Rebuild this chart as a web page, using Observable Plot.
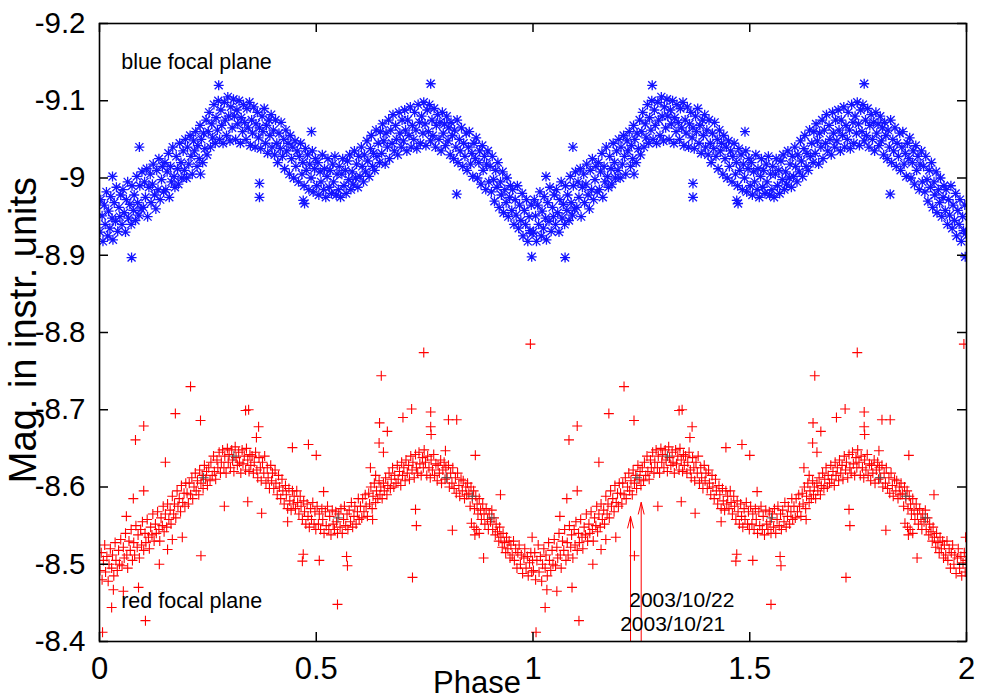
<!DOCTYPE html>
<html><head><meta charset="utf-8">
<script src="https://cdn.jsdelivr.net/npm/d3@7"></script>
<script src="https://cdn.jsdelivr.net/npm/@observablehq/plot@0.6"></script>
<style>
body{margin:0;background:#fff;}
#chart svg{font-family:"Liberation Sans",Arial,Helvetica,sans-serif;background:#fff;}
</style>
</head><body><div id="chart"></div>
<script>
// ---- Tick values ----
const xTicks = [0, 0.5, 1, 1.5, 2];
const yTicks = [-9.2, -9.1, -9, -8.9, -8.8, -8.7, -8.6, -8.5, -8.4];

// ---- Blue focal plane: [phase, magnitude] (phase 0..1, shown again at phase+1) ----
const bluePoints = [
[0.001,-8.930],[0.003,-8.972],[0.006,-8.951],[0.008,-8.918],[0.011,-8.965],[0.013,-8.940],[0.016,-8.982],[0.019,-8.925],[0.021,-8.957],[0.024,-8.935],
[0.026,-8.976],[0.029,-8.948],[0.031,-8.920],[0.034,-8.968],[0.037,-8.944],[0.039,-8.988],[0.042,-8.931],[0.045,-8.962],[0.047,-8.950],[0.049,-8.978],
[0.052,-8.940],[0.054,-8.985],[0.057,-8.955],[0.060,-8.930],[0.062,-8.972],[0.065,-8.995],[0.067,-8.948],[0.070,-8.966],[0.073,-8.940],[0.075,-8.990],
[0.078,-8.958],[0.080,-8.978],[0.083,-8.945],[0.086,-9.002],[0.088,-8.968],[0.091,-8.952],[0.093,-8.990],[0.096,-8.960],[0.098,-9.008],
[0.101,-8.962],[0.104,-8.995],[0.106,-8.975],[0.109,-9.012],[0.111,-8.950],[0.114,-8.988],[0.117,-9.005],[0.119,-8.968],[0.122,-8.992],[0.124,-9.018],
[0.127,-8.978],[0.130,-8.960],[0.132,-9.010],[0.135,-8.985],[0.137,-9.025],[0.140,-8.972],[0.143,-8.998],[0.145,-9.015],[0.148,-8.982],
[0.151,-9.020],[0.153,-8.985],[0.156,-9.008],[0.159,-9.032],[0.161,-8.975],[0.164,-9.015],[0.166,-8.995],[0.169,-9.040],[0.172,-9.002],[0.174,-8.988],
[0.177,-9.028],[0.180,-9.012],[0.182,-8.992],[0.185,-9.045],[0.188,-9.020],[0.190,-9.000],[0.193,-9.035],[0.196,-9.010],[0.198,-9.050],
[0.201,-9.000],[0.203,-9.040],[0.206,-9.018],[0.209,-9.055],[0.211,-9.028],[0.214,-9.005],[0.217,-9.048],[0.219,-9.035],[0.222,-9.060],[0.225,-9.015],
[0.227,-9.042],[0.230,-9.025],[0.232,-9.068],[0.235,-9.050],[0.238,-9.020],[0.240,-9.058],[0.243,-9.038],[0.246,-9.075],[0.248,-9.030],
[0.251,-9.060],[0.253,-9.085],[0.256,-9.040],[0.259,-9.070],[0.261,-9.052],[0.264,-9.095],[0.267,-9.045],[0.269,-9.078],[0.272,-9.062],[0.274,-9.100],
[0.277,-9.050],[0.280,-9.088],[0.282,-9.068],[0.285,-9.045],[0.288,-9.098],[0.290,-9.075],[0.293,-9.055],[0.296,-9.105],[0.298,-9.080],
[0.301,-9.048],[0.303,-9.092],[0.306,-9.065],[0.309,-9.102],[0.311,-9.080],[0.314,-9.050],[0.317,-9.088],[0.319,-9.070],[0.322,-9.100],[0.325,-9.045],
[0.327,-9.078],[0.330,-9.060],[0.332,-9.095],[0.335,-9.072],[0.338,-9.050],[0.340,-9.090],[0.343,-9.065],[0.346,-9.098],[0.348,-9.042],
[0.351,-9.075],[0.353,-9.058],[0.356,-9.092],[0.359,-9.040],[0.361,-9.070],[0.364,-9.085],[0.367,-9.052],[0.369,-9.065],[0.372,-9.038],[0.375,-9.080],
[0.377,-9.060],[0.380,-9.090],[0.383,-9.045],[0.385,-9.068],[0.388,-9.032],[0.391,-9.075],[0.393,-9.055],[0.396,-9.082],[0.398,-9.040],
[0.401,-9.062],[0.404,-9.030],[0.406,-9.075],[0.409,-9.045],[0.411,-9.020],[0.414,-9.058],[0.417,-9.038],[0.419,-9.072],[0.422,-9.028],[0.425,-9.050],
[0.427,-9.012],[0.430,-9.062],[0.432,-9.035],[0.435,-9.045],[0.438,-9.005],[0.440,-9.055],[0.443,-9.025],[0.446,-9.040],[0.448,-9.000],
[0.451,-9.048],[0.453,-9.015],[0.456,-9.035],[0.459,-8.995],[0.461,-9.028],[0.464,-9.045],[0.467,-9.005],[0.469,-9.020],[0.472,-8.990],[0.475,-9.038],
[0.477,-9.010],[0.480,-9.030],[0.483,-8.985],[0.485,-9.018],[0.488,-9.000],[0.491,-9.035],[0.493,-8.982],[0.496,-9.012],[0.498,-9.025],
[0.501,-8.990],[0.504,-9.020],[0.506,-8.978],[0.509,-9.008],[0.511,-8.995],[0.514,-9.030],[0.517,-8.985],[0.519,-9.012],[0.522,-8.975],[0.525,-9.002],
[0.527,-9.025],[0.530,-8.988],[0.532,-9.010],[0.535,-8.980],[0.538,-9.018],[0.540,-8.995],[0.543,-9.028],[0.546,-8.978],[0.548,-9.005],
[0.551,-8.985],[0.553,-9.015],[0.556,-8.975],[0.559,-9.005],[0.561,-9.025],[0.564,-8.990],[0.567,-9.010],[0.569,-8.980],[0.572,-9.022],[0.575,-8.998],
[0.577,-9.030],[0.580,-8.985],[0.583,-9.008],[0.585,-8.992],[0.588,-9.035],[0.591,-9.000],[0.593,-9.018],[0.596,-8.988],[0.598,-9.028],
[0.601,-9.002],[0.604,-9.040],[0.606,-9.015],[0.609,-8.995],[0.611,-9.030],[0.614,-9.008],[0.617,-9.048],[0.619,-9.022],[0.622,-9.002],[0.625,-9.038],
[0.627,-9.055],[0.630,-9.015],[0.632,-9.032],[0.635,-9.010],[0.638,-9.062],[0.640,-9.028],[0.643,-9.045],[0.646,-9.020],[0.648,-9.060],
[0.651,-9.032],[0.653,-9.070],[0.656,-9.048],[0.659,-9.018],[0.661,-9.058],[0.664,-9.040],[0.667,-9.075],[0.669,-9.025],[0.672,-9.062],[0.675,-9.045],
[0.677,-9.082],[0.680,-9.035],[0.683,-9.068],[0.685,-9.050],[0.688,-9.030],[0.691,-9.085],[0.693,-9.058],[0.696,-9.040],[0.698,-9.075],
[0.701,-9.048],[0.704,-9.088],[0.706,-9.062],[0.709,-9.035],[0.711,-9.075],[0.714,-9.055],[0.717,-9.092],[0.719,-9.040],[0.722,-9.068],[0.725,-9.050],
[0.727,-9.085],[0.730,-9.062],[0.732,-9.038],[0.735,-9.095],[0.738,-9.072],[0.740,-9.045],[0.743,-9.080],[0.746,-9.058],[0.748,-9.098],
[0.751,-9.070],[0.753,-9.042],[0.756,-9.088],[0.759,-9.060],[0.761,-9.095],[0.764,-9.048],[0.767,-9.075],[0.769,-9.055],[0.772,-9.090],[0.775,-9.040],
[0.777,-9.068],[0.780,-9.082],[0.783,-9.050],[0.785,-9.072],[0.788,-9.035],[0.791,-9.085],[0.793,-9.058],[0.796,-9.070],[0.798,-9.042],
[0.801,-9.080],[0.804,-9.048],[0.806,-9.065],[0.809,-9.030],[0.811,-9.072],[0.814,-9.055],[0.817,-9.025],[0.819,-9.062],[0.822,-9.040],[0.825,-9.075],
[0.827,-9.020],[0.830,-9.050],[0.832,-9.035],[0.835,-9.065],[0.838,-9.015],[0.840,-9.045],[0.843,-9.028],[0.846,-9.058],[0.848,-9.010],
[0.851,-9.040],[0.853,-9.060],[0.856,-9.018],[0.859,-9.032],[0.861,-9.002],[0.864,-9.045],[0.867,-9.025],[0.869,-9.052],[0.872,-9.000],[0.875,-9.020],
[0.877,-9.035],[0.880,-8.992],[0.883,-9.042],[0.885,-9.010],[0.888,-9.028],[0.891,-8.985],[0.893,-9.018],[0.896,-9.035],[0.898,-8.995],
[0.901,-9.015],[0.904,-8.982],[0.906,-9.028],[0.909,-8.998],[0.911,-8.970],[0.914,-9.010],[0.917,-8.988],[0.919,-9.020],[0.922,-8.962],[0.925,-8.995],
[0.927,-8.978],[0.930,-9.008],[0.932,-8.955],[0.935,-8.985],[0.938,-8.968],[0.940,-9.000],[0.943,-8.950],[0.946,-8.975],[0.948,-8.990],
[0.951,-8.958],[0.953,-8.985],[0.956,-8.940],[0.959,-8.972],[0.961,-8.952],[0.964,-8.990],[0.967,-8.935],[0.969,-8.965],[0.972,-8.945],[0.975,-8.980],
[0.977,-8.925],[0.980,-8.958],[0.983,-8.940],[0.985,-8.972],[0.988,-8.918],[0.991,-8.950],[0.993,-8.932],[0.996,-8.965],[0.998,-8.928]];
// Blue outliers
const blueOutliers = [
[0.074,-8.897],[0.275,-9.120],[0.092,-9.040],[0.233,-9.005],[0.369,-8.993],[0.369,-8.975],[0.473,-8.967],
[0.489,-9.060],[0.764,-9.122],[0.824,-8.979],[0.997,-8.898],[0.030,-9.002],[0.470,-8.971]];

// ---- Red focal plane: [phase, magnitude] ----
const redPoints = [
[0.001,-8.492],[0.004,-8.515],[0.006,-8.480],[0.009,-8.505],[0.012,-8.525],[0.014,-8.490],[0.017,-8.510],[0.020,-8.478],[0.022,-8.500],[0.025,-8.520],
[0.028,-8.495],[0.030,-8.512],[0.033,-8.485],[0.036,-8.528],[0.038,-8.505],[0.041,-8.492],[0.044,-8.518],[0.046,-8.500],[0.049,-8.532],
[0.052,-8.498],[0.055,-8.522],[0.057,-8.508],[0.060,-8.540],[0.063,-8.512],[0.065,-8.495],[0.068,-8.530],[0.071,-8.518],[0.073,-8.545],[0.076,-8.505],
[0.079,-8.528],[0.081,-8.512],[0.084,-8.550],[0.087,-8.522],[0.089,-8.538],[0.092,-8.508],[0.095,-8.545],[0.097,-8.525],[0.099,-8.555],
[0.102,-8.518],[0.105,-8.540],[0.107,-8.528],[0.110,-8.558],[0.113,-8.535],[0.115,-8.520],[0.118,-8.548],[0.121,-8.538],[0.123,-8.565],[0.126,-8.530],
[0.129,-8.552],[0.131,-8.540],[0.134,-8.568],[0.137,-8.545],[0.139,-8.530],[0.142,-8.560],[0.145,-8.550],[0.147,-8.575],[0.149,-8.542],
[0.152,-8.565],[0.155,-8.548],[0.157,-8.578],[0.160,-8.558],[0.163,-8.570],[0.165,-8.552],[0.168,-8.588],[0.171,-8.565],[0.173,-8.578],[0.176,-8.560],
[0.179,-8.595],[0.181,-8.575],[0.184,-8.585],[0.187,-8.568],[0.189,-8.602],[0.192,-8.580],[0.195,-8.592],[0.197,-8.575],[0.199,-8.605],
[0.202,-8.592],[0.205,-8.578],[0.207,-8.605],[0.210,-8.590],[0.213,-8.612],[0.215,-8.585],[0.218,-8.600],[0.221,-8.618],[0.223,-8.595],[0.226,-8.608],
[0.229,-8.590],[0.231,-8.622],[0.234,-8.605],[0.237,-8.615],[0.239,-8.598],[0.242,-8.628],[0.245,-8.610],[0.247,-8.620],[0.249,-8.602],
[0.252,-8.625],[0.255,-8.608],[0.257,-8.632],[0.260,-8.615],[0.263,-8.640],[0.265,-8.620],[0.268,-8.610],[0.271,-8.635],[0.273,-8.625],[0.276,-8.645],
[0.279,-8.618],[0.281,-8.632],[0.284,-8.648],[0.287,-8.625],[0.289,-8.640],[0.292,-8.618],[0.295,-8.650],[0.297,-8.632],[0.299,-8.642],
[0.302,-8.625],[0.305,-8.648],[0.307,-8.635],[0.310,-8.620],[0.313,-8.652],[0.315,-8.638],[0.318,-8.628],[0.321,-8.645],[0.323,-8.632],[0.326,-8.618],
[0.329,-8.648],[0.331,-8.630],[0.334,-8.640],[0.337,-8.622],[0.339,-8.650],[0.342,-8.635],[0.345,-8.620],[0.347,-8.642],[0.349,-8.628],
[0.352,-8.640],[0.355,-8.618],[0.357,-8.632],[0.360,-8.645],[0.363,-8.622],[0.365,-8.612],[0.368,-8.638],[0.371,-8.625],[0.373,-8.608],[0.376,-8.632],
[0.379,-8.618],[0.381,-8.640],[0.384,-8.605],[0.387,-8.625],[0.389,-8.612],[0.392,-8.598],[0.395,-8.628],[0.397,-8.608],[0.399,-8.618],
[0.402,-8.598],[0.405,-8.622],[0.407,-8.605],[0.410,-8.590],[0.413,-8.615],[0.415,-8.600],[0.418,-8.585],[0.421,-8.610],[0.423,-8.595],[0.426,-8.578],
[0.429,-8.602],[0.431,-8.590],[0.434,-8.572],[0.437,-8.598],[0.439,-8.582],[0.442,-8.570],[0.445,-8.595],[0.447,-8.578],[0.449,-8.588],
[0.452,-8.572],[0.455,-8.595],[0.457,-8.580],[0.460,-8.565],[0.463,-8.588],[0.465,-8.575],[0.468,-8.558],[0.471,-8.582],[0.473,-8.568],[0.476,-8.552],
[0.479,-8.578],[0.481,-8.562],[0.484,-8.548],[0.487,-8.572],[0.489,-8.558],[0.492,-8.580],[0.495,-8.552],[0.497,-8.568],[0.499,-8.545],
[0.502,-8.575],[0.505,-8.552],[0.507,-8.565],[0.510,-8.545],[0.513,-8.572],[0.515,-8.558],[0.518,-8.540],[0.521,-8.568],[0.523,-8.550],[0.526,-8.575],
[0.529,-8.545],[0.531,-8.562],[0.534,-8.538],[0.537,-8.570],[0.539,-8.552],[0.542,-8.545],[0.545,-8.568],[0.547,-8.555],[0.549,-8.540],
[0.552,-8.565],[0.555,-8.548],[0.557,-8.572],[0.560,-8.540],[0.563,-8.558],[0.565,-8.575],[0.568,-8.550],[0.571,-8.565],[0.573,-8.545],[0.576,-8.570],
[0.579,-8.555],[0.581,-8.580],[0.584,-8.548],[0.587,-8.562],[0.589,-8.575],[0.592,-8.552],[0.595,-8.568],[0.597,-8.585],[0.599,-8.558],
[0.602,-8.575],[0.605,-8.560],[0.607,-8.585],[0.610,-8.568],[0.613,-8.590],[0.615,-8.575],[0.618,-8.562],[0.621,-8.592],[0.623,-8.578],[0.626,-8.600],
[0.629,-8.572],[0.631,-8.588],[0.634,-8.605],[0.637,-8.580],[0.639,-8.595],[0.642,-8.585],[0.645,-8.608],[0.647,-8.590],[0.649,-8.600],
[0.652,-8.585],[0.655,-8.605],[0.657,-8.595],[0.660,-8.612],[0.663,-8.590],[0.665,-8.602],[0.668,-8.618],[0.671,-8.598],[0.673,-8.610],[0.676,-8.625],
[0.679,-8.600],[0.681,-8.615],[0.684,-8.605],[0.687,-8.628],[0.689,-8.610],[0.692,-8.620],[0.695,-8.602],[0.697,-8.632],[0.699,-8.615],
[0.702,-8.625],[0.705,-8.608],[0.707,-8.635],[0.710,-8.618],[0.713,-8.628],[0.715,-8.610],[0.718,-8.640],[0.721,-8.622],[0.723,-8.632],[0.726,-8.612],
[0.729,-8.642],[0.731,-8.625],[0.734,-8.618],[0.737,-8.645],[0.739,-8.630],[0.742,-8.615],[0.745,-8.638],[0.747,-8.625],[0.749,-8.648],
[0.752,-8.632],[0.755,-8.615],[0.757,-8.640],[0.760,-8.625],[0.763,-8.612],[0.765,-8.635],[0.768,-8.622],[0.771,-8.642],[0.773,-8.615],[0.776,-8.630],
[0.779,-8.608],[0.781,-8.628],[0.784,-8.618],[0.787,-8.635],[0.789,-8.605],[0.792,-8.622],[0.795,-8.632],[0.797,-8.610],[0.799,-8.625],
[0.802,-8.612],[0.805,-8.628],[0.807,-8.600],[0.810,-8.618],[0.813,-8.605],[0.815,-8.625],[0.818,-8.598],[0.821,-8.612],[0.823,-8.592],[0.826,-8.618],
[0.829,-8.602],[0.831,-8.588],[0.834,-8.610],[0.837,-8.595],[0.839,-8.608],[0.842,-8.585],[0.845,-8.600],[0.847,-8.590],[0.849,-8.605],
[0.852,-8.592],[0.855,-8.575],[0.857,-8.600],[0.860,-8.585],[0.863,-8.595],[0.865,-8.572],[0.868,-8.588],[0.871,-8.578],[0.873,-8.565],[0.876,-8.585],
[0.879,-8.570],[0.881,-8.558],[0.884,-8.578],[0.887,-8.565],[0.889,-8.552],[0.892,-8.572],[0.895,-8.558],[0.897,-8.545],[0.899,-8.565],
[0.902,-8.555],[0.905,-8.570],[0.907,-8.545],[0.910,-8.560],[0.913,-8.538],[0.915,-8.552],[0.918,-8.542],[0.921,-8.530],[0.923,-8.548],[0.926,-8.535],
[0.929,-8.522],[0.931,-8.540],[0.934,-8.528],[0.937,-8.515],[0.939,-8.535],[0.942,-8.520],[0.945,-8.530],[0.947,-8.508],[0.949,-8.525],
[0.952,-8.512],[0.955,-8.530],[0.957,-8.505],[0.960,-8.520],[0.963,-8.495],[0.965,-8.515],[0.968,-8.525],[0.971,-8.500],[0.973,-8.512],[0.976,-8.488],
[0.979,-8.508],[0.981,-8.520],[0.984,-8.495],[0.987,-8.510],[0.989,-8.485],[0.992,-8.502],[0.995,-8.515],[0.997,-8.490],[0.999,-8.505]];
// Red outliers and scattered points
const redOutliers = [
[0.210,-8.730],[0.175,-8.695],[0.083,-8.661],[0.102,-8.679],[0.233,-8.686],[0.337,-8.699],[0.344,-8.700],[0.367,-8.678],[0.362,-8.664],[0.152,-8.632],
[0.102,-8.595],[0.078,-8.585],[0.062,-8.562],[0.234,-8.511],[0.138,-8.500],[0.028,-8.444],[0.106,-8.427],[0.007,-8.412],[0.032,-8.467],[0.055,-8.465],
[0.090,-8.470],[0.748,-8.774],[0.650,-8.744],[0.720,-8.701],[0.700,-8.690],[0.764,-8.697],[0.805,-8.687],[0.824,-8.687],[0.764,-8.678],[0.765,-8.668],
[0.646,-8.683],[0.664,-8.672],[0.645,-8.657],[0.655,-8.645],[0.798,-8.647],[0.867,-8.641],[0.445,-8.651],[0.482,-8.655],[0.500,-8.641],[0.517,-8.594],
[0.470,-8.513],[0.468,-8.504],[0.507,-8.505],[0.570,-8.510],[0.572,-8.498],[0.549,-8.448],[0.722,-8.483],[0.729,-8.571],[0.731,-8.550],[0.814,-8.544],
[0.886,-8.508],[0.925,-8.590],[0.994,-8.785],[0.998,-8.535],[0.288,-8.575],[0.342,-8.581],[0.374,-8.566],[0.434,-8.555],[0.625,-8.625],[0.637,-8.615],
[0.630,-8.558],[0.157,-8.519],[0.191,-8.535],[0.168,-8.532],[0.858,-8.553],[0.864,-8.548],[0.870,-8.545],[0.876,-8.540],[0.866,-8.538]];
// A few dark grey points among the red ones
const greyPoints = [[0.240,-8.612],[0.310,-8.640],[0.550,-8.560],[0.800,-8.612],[0.860,-8.588],[0.905,-8.560]];

// ---- Annotations ----
const arrowPhase = [1.225, 1.2496];
const arrowTipMag = [-8.562, -8.580];
const arrowBaseMag = -8.4;
const dateLabels = ["2003/10/22", "2003/10/21"];
const dateLabelPhase = [1.222, 1.201];
const dateLabelMag = [-8.453, -8.422];
const seriesLabels = ["blue focal plane", "red focal plane"];
const seriesLabelPhase = [0.05, 0.05];
const seriesLabelMag = [-9.150, -8.452];

// ---- Build tables (phase-folded data shown twice: phase and phase+1) ----
function fold(points) {
  const out = [];
  for (const k of [0, 1]) points.forEach(([p, m]) => out.push({phase: p + k, mag: m}));
  return out;
}
const blue = fold(bluePoints.concat(blueOutliers));
const red = fold(redPoints.concat(redOutliers));
const grey = fold(greyPoints);
const arrows = arrowPhase.map((p, i) => ({phase: p, tip: arrowTipMag[i], base: arrowBaseMag}));
const dates = dateLabels.map((t, i) => ({t, phase: dateLabelPhase[i], mag: dateLabelMag[i]}));
const names = seriesLabels.map((t, i) => ({t, phase: seriesLabelPhase[i], mag: seriesLabelMag[i]}));

// gnuplot-like symbols
const starSym = {draw(ctx, size) {
  const r = Math.sqrt(size / Math.PI), d = r * 0.8;
  ctx.moveTo(-r, 0); ctx.lineTo(r, 0);
  ctx.moveTo(0, -r); ctx.lineTo(0, r);
  ctx.moveTo(-d, -d); ctx.lineTo(d, d);
  ctx.moveTo(-d, d); ctx.lineTo(d, -d);
}};
const plusSym = {draw(ctx, size) {
  const r = Math.sqrt(size / Math.PI);
  ctx.moveTo(-r, 0); ctx.lineTo(r, 0);
  ctx.moveTo(0, -r); ctx.lineTo(0, r);
}};

const W = 1000, H = 700, mL = 99, mR = 34, mT = 23, mB = 59;
const innerW = W - mL - mR, innerH = H - mT - mB, tickLen = 9;
const fmt = d => String(d);

const chart = Plot.plot({
  width: W, height: H,
  marginLeft: mL, marginRight: mR, marginTop: mT, marginBottom: mB,
  x: {domain: [0, 2]},
  y: {domain: [-9.2, -8.4], reverse: true},
  style: {fontFamily: '"Liberation Sans", Arial, sans-serif', background: "#fff", overflow: "visible"},
  marks: [
    Plot.dot(blue, {x: "phase", y: "mag", symbol: starSym, r: 5, stroke: "#1414ff", fill: "none", strokeWidth: 1.3, clip: true}),
    Plot.dot(red, {x: "phase", y: "mag", symbol: plusSym, r: 5, stroke: "#ff0000", fill: "none", strokeWidth: 1.1, clip: true}),
    Plot.dot(grey, {x: "phase", y: "mag", symbol: plusSym, r: 5, stroke: "#555", fill: "none", strokeWidth: 1, clip: true}),
    Plot.arrow(arrows, {x: "phase", y1: "base", y2: "tip", stroke: "#ff0000", strokeWidth: 1, headAngle: 28, headLength: 18}),
    Plot.text(dates, {x: "phase", y: "mag", text: "t", textAnchor: "start", fontSize: 21, fill: "#000"}),
    Plot.text(names, {x: "phase", y: "mag", text: "t", textAnchor: "start", fontSize: 21.5, fill: "#000"}),
    // inward ticks on all four sides
    Plot.tickX(xTicks, {x: d => d, insetTop: innerH - tickLen, stroke: "#000", strokeWidth: 1.5}),
    Plot.tickX(xTicks, {x: d => d, insetBottom: innerH - tickLen, stroke: "#000", strokeWidth: 1.5}),
    Plot.tickY(yTicks, {y: d => d, insetRight: innerW - tickLen, stroke: "#000", strokeWidth: 1.5}),
    Plot.tickY(yTicks, {y: d => d, insetLeft: innerW - tickLen, stroke: "#000", strokeWidth: 1.5}),
    Plot.frame({stroke: "#000", strokeWidth: 1.6}),
    Plot.axisX(xTicks, {anchor: "bottom", tickSize: 0, tickPadding: 15, fontSize: 31, tickFormat: fmt, label: null}),
    Plot.axisY(yTicks, {anchor: "left", tickSize: 0, tickPadding: 14, fontSize: 29.5, tickFormat: fmt, label: null})
  ]
});

const svg = d3.select(chart);
svg.append("text").text("Phase")
  .attr("x", 477).attr("y", 693).attr("text-anchor", "middle")
  .attr("font-size", 31).attr("fill", "#000");
svg.append("text").text("Mag. in instr. units")
  .attr("transform", "translate(36,330) rotate(-90)").attr("text-anchor", "middle")
  .attr("font-size", 38).attr("fill", "#000");

document.getElementById("chart").appendChild(chart);
</script>
</body></html>
